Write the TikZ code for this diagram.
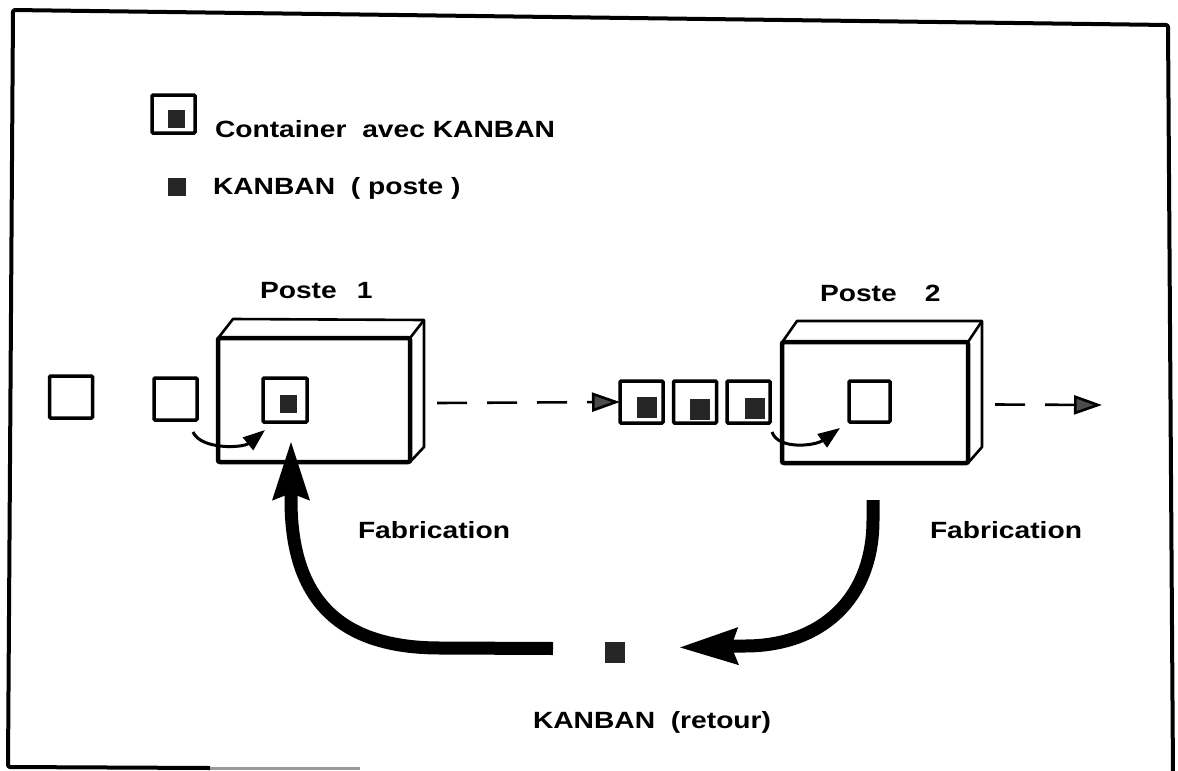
\documentclass[tikz,border=0pt]{standalone}
\usepackage{fontspec}
\setmainfont{Liberation Sans}
\usetikzlibrary{arrows.meta,calc}
\newcommand\stretchtxt[1]{\scalebox{1.2}[1]{#1}}
\begin{document}
\begin{tikzpicture}[x=1pt,y=-1pt,
  every node/.style={inner sep=0pt, outer sep=0pt},
  lbl/.style={font=\fontsize{23.5}{28}\selectfont\bfseries, anchor=base west},
  frame/.style={line width=4pt, line join=round, rounded corners=2pt},
  cont/.style={draw, line width=3.5pt, minimum width=43pt, minimum height=42pt, rounded corners=1pt},
  kb/.style={fill=black!85, minimum width=18pt, minimum height=18pt},
  front/.style={draw, line width=4.5pt, rounded corners=2pt},
  side/.style={line width=2.6pt, line join=round},
  smallarrow/.style={line width=3pt, -{Triangle[length=22pt,width=16pt]}},
  dasharrow/.style={line width=2.6pt, dash pattern=on 30pt off 20pt, -{Triangle[length=28pt,width=19pt,fill=black!70]}},
  bigarrow/.style={line width=13pt, -{Stealth[length=58pt,width=34pt,inset=5pt]}}
]
\useasboundingbox (0,0) rectangle (1178,771);

% frame
\draw[frame] (1173,778) -- (1168,25) -- (13,10) -- (8,767) -- (210,768);
\draw[line width=3pt, black!40] (210,768) -- (360,768);

% legend
\node[cont, minimum width=43pt, minimum height=38pt] (lc) at (173.5,114) {};
\node[kb, minimum width=17pt] (lck) at (176.5,119) {};
\node[lbl] (lt1) at (215,137) {\stretchtxt{Container\ \ avec KANBAN}};
\node[kb] (lk) at (177,186.5) {};
\node[lbl] (lt2) at (213,194) {\stretchtxt{KANBAN\ \ ( poste )}};

% Poste 1
\node[lbl] (t1) at (260,298) {\stretchtxt{Poste}\hspace{20pt}\stretchtxt{1}};
\node[front, minimum width=192pt, minimum height=124pt] (p1) at (314,400) {};
\draw[side] ($(p1.north west)+(1,-1)$) -- ($(p1.north west)+(15,-19)$) -- ($(p1.north east)+(14,-18)$) -- ($(p1.south east)+(14,-15)$) -- (p1.south east);
\draw[side] (p1.north east) -- ($(p1.north east)+(14,-18)$);
\node[cont, minimum width=44pt, minimum height=44pt] (pc1) at (285,400) {};
\node[kb, minimum width=17pt] (pk1) at (288.5,404) {};

% empty containers
\node[cont] (e1) at (71,397) {};
\node[cont] (e2) at (175.5,399) {};
\draw[smallarrow] ($(e2.south east)+(-4,12)$) .. controls +(8,18) and +(-22,18) .. ($(pc1.south west)+(2,8)$);

% queue between the postes
\node[cont] (m1) at (641.5,402) {};
\node[cont] (m2) at (695,402) {};
\node[cont] (m3) at (748.5,402) {};
\node[kb, minimum width=20pt, minimum height=21pt] (mk1) at (647,407.5) {};
\node[kb, minimum width=20pt, minimum height=21pt] (mk2) at (700,409) {};
\node[kb, minimum width=20pt, minimum height=21pt] (mk3) at (755,408) {};
\draw[dasharrow] ($(p1.east)+(27,3)$) -- (m1.west);

% Poste 2
\node[lbl] (t2) at (820,301) {\stretchtxt{Poste}\hspace{28pt}\stretchtxt{2}};
\node[front, minimum width=186pt, minimum height=121pt] (p2) at (875,402.5) {};
\draw[side] ($(p2.north west)+(1,-1)$) -- ($(p2.north west)+(15,-21)$) -- ($(p2.north east)+(14,-21)$) -- ($(p2.south east)+(14,-16)$) -- (p2.south east);
\draw[side] (p2.north east) -- ($(p2.north east)+(14,-21)$);
\node[cont, minimum width=41pt, minimum height=41pt] (pc2) at (869.5,401.5) {};
\draw[smallarrow] ($(m3.south east)+(2,9)$) .. controls +(6,18) and +(-25,18) .. ($(pc2.south west)+(-9,6)$);
\coordinate (out) at (1102,405);
\draw[dasharrow] ($(p2.east)+(27,2)$) -- (out);

% Fabrication labels
\node[lbl] (f1) at (358,538) {\stretchtxt{Fabrication}};
\node[lbl] (f2) at (930,538) {\stretchtxt{Fabrication}};

% KANBAN retour
\node[kb, minimum width=20pt, minimum height=21pt] (kr) at (615,652.5) {};
\node[lbl] (krt) at (533,728) {\stretchtxt{KANBAN\ \ (retour)}};
\coordinate (la) at ($(kr.west)+(-52,-4)$);
\coordinate (lt) at (291,440);
\draw[bigarrow] (la) -- (440,648) .. controls (340,648) and (291,600) .. (291,500) -- (lt);
\coordinate (rs) at (873,500);
\coordinate (rt) at ($(kr.east)+(53,-5)$);
\draw[bigarrow] (rs) -- (873,520) .. controls (873,600) and (820,646) .. (745,646) -- (rt);
\end{tikzpicture}
\end{document}
